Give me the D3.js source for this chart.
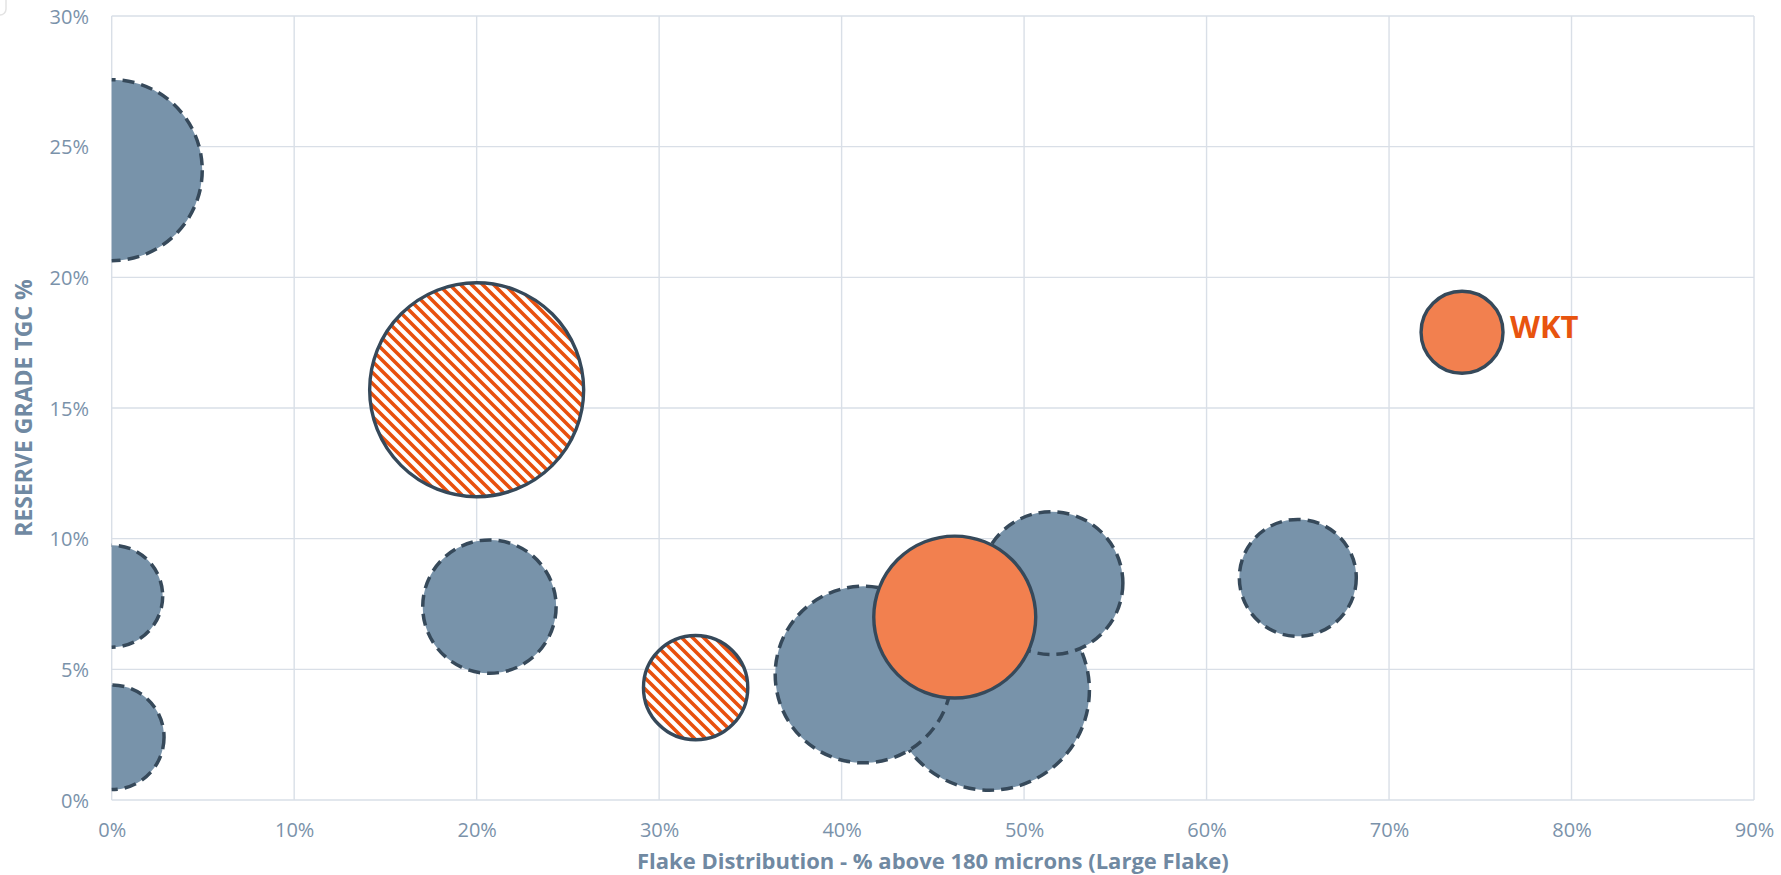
<!DOCTYPE html>
<html>
<head>
<meta charset="utf-8">
<script src="https://cdn.jsdelivr.net/npm/d3@7"></script>
<style>
  html, body { margin: 0; padding: 0; background: #ffffff; }
  svg { display: block; }
</style>
</head>
<body>
<svg id="chart" width="1781" height="875"></svg>
<script>
// ---- data ----
const xTicks = [0, 10, 20, 30, 40, 50, 60, 70, 80, 90];
const yTicks = [0, 5, 10, 15, 20, 25, 30];

// Peers (grey, dashed outline): flake % above 180 microns, reserve grade TGC %, bubble size
const peerX    = [0,    0,   0,    20.7, 48.1, 41.2, 51.5, 65.0];
const peerY    = [24.1, 7.8, 2.4,  7.4,  4.2,  4.8,  8.3,  8.5];
const peerSize = [82,   26,  27.4, 44.5, 100,  78,   51,   34.2];

// Hatched orange series
const hatchX    = [20.0, 32.0];
const hatchY    = [15.7, 4.3];
const hatchSize = [114.5, 27.2];

// Solid orange series
const orangeX     = [46.2, 74.0];
const orangeY     = [7.0, 17.9];
const orangeSize  = [65.6, 16.8];
const orangeLabel = ["", "WKT"];

const xTitle = "Flake Distribution - % above 180 microns (Large Flake)";
const yTitle = "RESERVE GRADE TGC %";

// ---- layout ----
const svg = d3.select("#chart");
const L = 111.7, R = 1754, T = 16, B = 800;
const x = d3.scaleLinear().domain([0, 90]).range([L, R]);
const y = d3.scaleLinear().domain([0, 30]).range([B, T]);
const r = d3.scaleSqrt().domain([0, 114.5]).range([0, 107]);

const gridColor = "#d9dfe7";
const textColor = "#7a92aa";
const titleColor = "#7089a2";
const greyFill = "#7893aa";
const outline = "#36495a";
const orangeFill = "#f2804f";
const stripe = "#e8500e";

// faint corner of a frame at top-left
svg.append("rect").attr("x", -60).attr("y", -30).attr("width", 66).attr("height", 45)
  .attr("rx", 6).attr("fill", "none").attr("stroke", "#e3e3e3").attr("stroke-width", 1.5);

const defs = svg.append("defs");
defs.append("clipPath").attr("id", "plotClip")
  .append("rect").attr("x", L).attr("y", T - 5).attr("width", R - L).attr("height", B - T + 5);

const pat = defs.append("pattern").attr("id", "hatch")
  .attr("patternUnits", "userSpaceOnUse").attr("width", 11).attr("height", 11);
pat.append("rect").attr("width", 11).attr("height", 11).attr("fill", "#ffffff");
pat.append("path").attr("d", "M-2,-2 L13,13 M-2,9 L2,13 M9,-2 L13,2")
  .attr("stroke", stripe).attr("stroke-width", 3.6).attr("fill", "none");

// gridlines
const grid = svg.append("g");
grid.selectAll("line.v").data(xTicks).join("line")
  .attr("x1", d => x(d)).attr("x2", d => x(d)).attr("y1", T).attr("y2", B)
  .attr("stroke", gridColor).attr("stroke-width", 1.4);
grid.selectAll("line.h").data(yTicks).join("line")
  .attr("x1", L).attr("x2", R).attr("y1", d => y(d)).attr("y2", d => y(d))
  .attr("stroke", gridColor).attr("stroke-width", 1.4);

// axes (labels only)
const xAxis = svg.append("g").attr("transform", `translate(0,${B})`)
  .call(d3.axisBottom(x).tickValues(xTicks).tickFormat(d => d + "%").tickSize(0).tickPadding(0));
xAxis.select(".domain").remove();
xAxis.selectAll("text").attr("y", 30).attr("dy", "0.35em")
  .attr("font-family", "'Open Sans', sans-serif").attr("font-size", 20).attr("fill", textColor);

const yAxis = svg.append("g").attr("transform", `translate(${L},0)`)
  .call(d3.axisLeft(y).tickValues(yTicks).tickFormat(d => d + "%").tickSize(0).tickPadding(0));
yAxis.select(".domain").remove();
yAxis.selectAll("text").attr("x", -22.7).attr("dy", "0.35em")
  .attr("font-family", "'Open Sans', sans-serif").attr("font-size", 20).attr("fill", textColor);

// titles
svg.append("text").attr("x", (L + R) / 2).attr("y", 861).attr("dy", "0.35em")
  .attr("text-anchor", "middle").attr("font-family", "'Open Sans', sans-serif")
  .attr("font-weight", "bold").attr("font-size", 22).attr("fill", titleColor).text(xTitle);
svg.append("text").attr("transform", `translate(24,${(T + B) / 2}) rotate(-90)`).attr("dy", "0.35em")
  .attr("text-anchor", "middle").attr("font-family", "'Open Sans', sans-serif")
  .attr("font-weight", "bold").attr("font-size", 23).attr("fill", titleColor).text(yTitle);

// bubbles
const plot = svg.append("g").attr("clip-path", "url(#plotClip)");
const peers = peerX.map((v, i) => ({ x: v, y: peerY[i], s: peerSize[i] }));
plot.selectAll("circle.peer").data(peers).join("circle")
  .attr("cx", d => x(d.x)).attr("cy", d => y(d.y)).attr("r", d => r(d.s))
  .attr("fill", greyFill).attr("stroke", outline).attr("stroke-width", 3.5)
  .attr("stroke-dasharray", "12,7");

const hatched = hatchX.map((v, i) => ({ x: v, y: hatchY[i], s: hatchSize[i] }));
plot.selectAll("circle.hatch").data(hatched).join("circle")
  .attr("cx", d => x(d.x)).attr("cy", d => y(d.y)).attr("r", d => r(d.s))
  .attr("fill", "url(#hatch)").attr("stroke", outline).attr("stroke-width", 3.4);

const oranges = orangeX.map((v, i) => ({ x: v, y: orangeY[i], s: orangeSize[i], label: orangeLabel[i] }));
plot.selectAll("circle.orange").data(oranges).join("circle")
  .attr("cx", d => x(d.x)).attr("cy", d => y(d.y)).attr("r", d => r(d.s))
  .attr("fill", orangeFill).attr("stroke", outline).attr("stroke-width", 3.4);

svg.selectAll("text.lbl").data(oranges.filter(d => d.label)).join("text")
  .attr("x", d => x(d.x) + r(d.s) + 7).attr("y", d => y(d.y) + 6)
  .attr("font-family", "'Open Sans', sans-serif").attr("font-weight", "bold")
  .attr("font-size", 31).attr("fill", "#e8540f").text(d => d.label);
</script>
</body>
</html>
